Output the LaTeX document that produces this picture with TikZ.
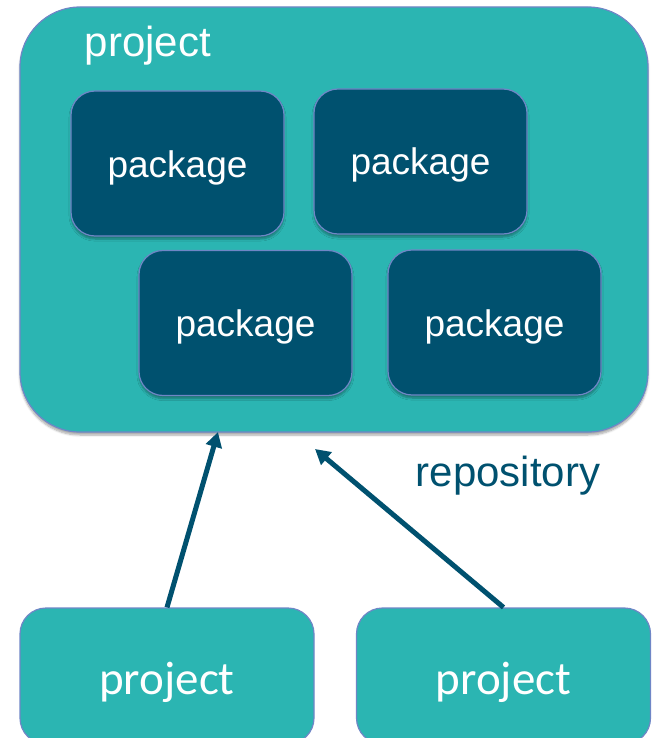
\documentclass[tikz,border=0pt]{standalone}
\usepackage{fontspec}
\setmainfont{Liberation Sans}
\newfontfamily\calib{Carlito}
\usetikzlibrary{arrows.meta,shadows.blur}
\definecolor{tealbox}{HTML}{2BB5B2}
\definecolor{darkbox}{HTML}{00516F}
\definecolor{edgeblue}{HTML}{6F86C6}
\newcommand{\lowered}[2]{\raisebox{-#1}[\height][\depth]{#2}}
\begin{document}
\begin{tikzpicture}[x=1pt,y=1pt,
  boxshadow/.style={blur shadow={shadow xshift=0pt,shadow yshift=-3pt,shadow blur steps=6,shadow opacity=35}},
  repobox/.style={draw=edgeblue,line width=1.2pt,fill=tealbox,rounded corners=60pt,minimum width=628pt,minimum height=425pt,boxshadow},
  pkgbox/.style={draw=edgeblue,line width=1.2pt,fill=darkbox,rounded corners=24pt,minimum width=213pt,minimum height=145pt,text=white,font=\fontsize{37}{42}\selectfont,boxshadow},
  projbox/.style={draw=edgeblue,line width=1.2pt,fill=tealbox,rounded corners=26pt,minimum width=294pt,minimum height=136pt,text=white,font=\calib\fontsize{47}{54}\selectfont},
  label/.style={font=\fontsize{42}{48}\selectfont},
  link/.style={draw=darkbox,line width=5pt,-{Triangle[length=15pt,width=16pt]}}
]
\useasboundingbox (0,0) rectangle (652,-738);
\node[repobox] (repo) at (334,-219.5) {};
\node[label,text=white] (repotitle) at (148,-46) {project};
\node[pkgbox] (p1) at (177.5,-163.5) {\lowered{4pt}{package}};
\node[pkgbox] (p2) at (420.5,-161.5) {\lowered{3pt}{package}};
\node[pkgbox] (p3) at (245.5,-323) {\lowered{4pt}{package}};
\node[pkgbox] (p4) at (494.5,-322.5) {\lowered{4pt}{package}};
\node[label,text=darkbox] (repolabel) at (508,-476) {repository};
\node[projbox] (pl) at (167,-676) {\lowered{6pt}{project}};
\node[projbox] (pr) at (503.5,-676) {\lowered{6pt}{project}};
\coordinate (t1) at (218,-432);
\coordinate (t2) at (315,-449);
\draw[link] (pl.north) -- (t1);
\draw[link] (pr.north) -- (t2);
\end{tikzpicture}
\end{document}
